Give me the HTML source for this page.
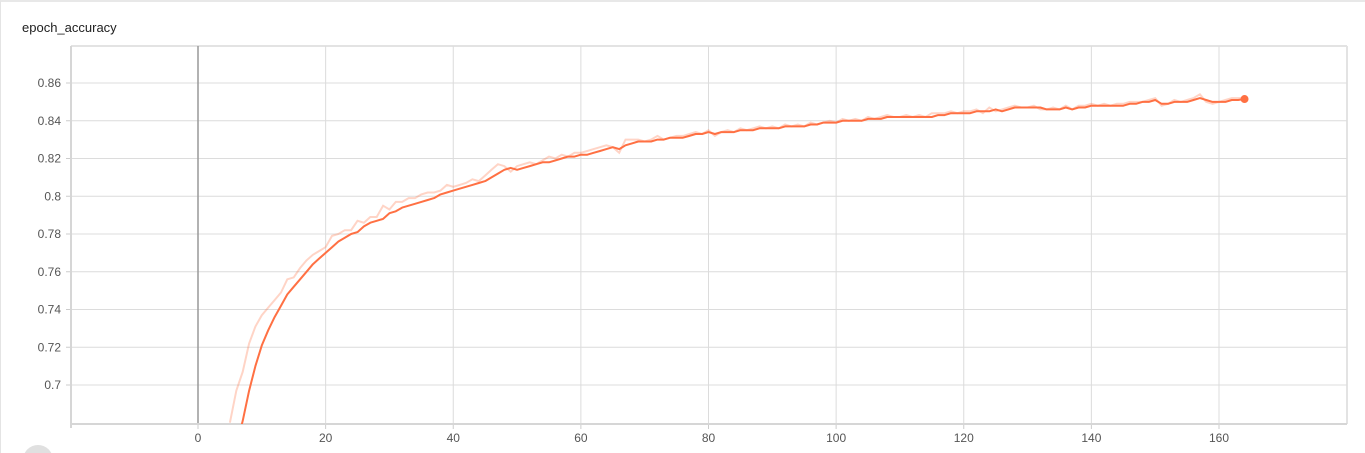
<!DOCTYPE html>
<html><head><meta charset="utf-8"><style>
html,body{margin:0;padding:0;background:#fff;width:1365px;height:453px;overflow:hidden;font-family:"Liberation Sans",sans-serif}
#card{position:absolute;left:0;top:0;width:1365px;height:453px;overflow:hidden;border-top:2px solid #e8e8e8;border-left:1px solid #e4e4e4;box-sizing:border-box}
#title{position:absolute;left:21px;top:18px;font-size:13px;color:#212121}
#fab{position:absolute;left:22px;top:443px;width:30px;height:30px;border-radius:50%;background:#e0e0e0}
</style></head><body>
<div id="card">
<div id="title">epoch_accuracy</div>
<svg id="chart" width="1365" height="453" style="position:absolute;left:-1px;top:-2px"></svg>
<div id="fab"></div>
</div>
<script>
const startEpoch = 5;
const smoothedValues = [0.655,0.668,0.681,0.697,0.71,0.721,0.729,0.736,0.742,0.748,0.752,0.756,0.76,0.764,0.767,0.770,0.773,0.776,0.778,0.780,0.781,0.784,0.786,0.787,0.788,0.791,0.792,0.794,0.795,0.796,0.797,0.798,0.799,0.801,0.802,0.803,0.804,0.805,0.806,0.807,0.808,0.810,0.812,0.814,0.815,0.814,0.815,0.816,0.817,0.818,0.818,0.819,0.820,0.821,0.821,0.822,0.822,0.823,0.824,0.825,0.826,0.825,0.827,0.828,0.829,0.829,0.829,0.830,0.830,0.831,0.831,0.831,0.832,0.833,0.833,0.834,0.833,0.834,0.834,0.834,0.835,0.835,0.835,0.836,0.836,0.836,0.836,0.837,0.837,0.837,0.837,0.838,0.838,0.839,0.839,0.839,0.840,0.840,0.840,0.840,0.841,0.841,0.841,0.842,0.842,0.842,0.842,0.842,0.842,0.842,0.842,0.843,0.843,0.844,0.844,0.844,0.844,0.845,0.845,0.845,0.846,0.845,0.846,0.847,0.847,0.847,0.847,0.847,0.846,0.846,0.846,0.847,0.846,0.847,0.847,0.848,0.848,0.848,0.848,0.848,0.848,0.849,0.849,0.850,0.850,0.851,0.849,0.849,0.850,0.850,0.850,0.851,0.852,0.851,0.850,0.850,0.850,0.851,0.851,0.8515];
const rawValues = [0.68,0.697,0.707,0.722,0.731,0.737,0.741,0.745,0.749,0.756,0.757,0.762,0.766,0.769,0.771,0.773,0.779,0.780,0.782,0.782,0.787,0.786,0.789,0.789,0.795,0.793,0.797,0.797,0.799,0.799,0.801,0.802,0.802,0.803,0.806,0.805,0.806,0.807,0.809,0.808,0.811,0.814,0.817,0.816,0.813,0.816,0.817,0.818,0.817,0.819,0.821,0.820,0.822,0.821,0.823,0.823,0.824,0.825,0.826,0.827,0.826,0.823,0.830,0.830,0.830,0.829,0.830,0.832,0.830,0.831,0.832,0.832,0.833,0.834,0.833,0.835,0.832,0.834,0.835,0.834,0.836,0.835,0.836,0.837,0.836,0.837,0.836,0.838,0.837,0.838,0.837,0.839,0.838,0.839,0.840,0.839,0.841,0.840,0.841,0.840,0.842,0.841,0.842,0.843,0.842,0.842,0.843,0.842,0.843,0.842,0.844,0.844,0.844,0.845,0.844,0.845,0.845,0.846,0.844,0.847,0.845,0.846,0.847,0.848,0.847,0.847,0.848,0.846,0.846,0.847,0.846,0.848,0.846,0.848,0.848,0.849,0.848,0.849,0.848,0.849,0.849,0.850,0.850,0.850,0.851,0.852,0.848,0.849,0.851,0.850,0.851,0.852,0.854,0.850,0.849,0.850,0.851,0.852,0.852,0.852];
const xTicks = [0,20,40,60,80,100,120,140,160];
const yTicks = [0.7,0.72,0.74,0.76,0.78,0.8,0.82,0.84,0.86];

const L=71,R=1347,T=46,B=424;
const xs = e => 198 + e*(1219-198)/160;
const ys = v => 83 + (0.86 - v)*1887.5;
const NS='http://www.w3.org/2000/svg';
const svg=document.getElementById('chart');
function mk(t,a){const e=document.createElementNS(NS,t);for(const k in a)e.setAttribute(k,a[k]);svg.appendChild(e);return e;}

const defs=mk('defs',{});
const cp=document.createElementNS(NS,'clipPath');cp.setAttribute('id','clip');
const cr=document.createElementNS(NS,'rect');cr.setAttribute('x',L);cr.setAttribute('y',T);cr.setAttribute('width',R-L);cr.setAttribute('height',B-T);
cp.appendChild(cr);defs.appendChild(cp);

let g=mk('line',{x1:L,y1:T,x2:R,y2:T,stroke:'#e3e3e3','stroke-width':2});

g=mk('line',{x1:R,y1:T,x2:R,y2:B,stroke:'#e3e3e3','stroke-width':2});


yTicks.forEach(v=>{
  const y=ys(v);
  const l=mk('line',{x1:L,y1:y,x2:R,y2:y,stroke:'#dcdcdc','stroke-width':1});
  
  const tk=mk('line',{x1:L-5,y1:y,x2:L,y2:y,stroke:'#ccc'});
  
  const t=mk('text',{x:L-10,y:y+4,'text-anchor':'end','font-size':12,fill:'#555'});
  t.textContent=String(v);
  
});
xTicks.forEach(e=>{
  const x=xs(e);
  const l=mk('line',{x1:x,y1:T,x2:x,y2:B,stroke:e===0?'#999':'#dcdcdc','stroke-width':e===0?1.5:1});
  
  const tk=mk('line',{x1:x,y1:B,x2:x,y2:B+5,stroke:'#ccc'});
  
  const t=mk('text',{x:x,y:442,'text-anchor':'middle','font-size':12,fill:'#555'});
  t.textContent=String(e);
  
});
g=mk('line',{x1:L,y1:T,x2:L,y2:B+4,stroke:'#d6d6d6','stroke-width':2});

g=mk('line',{x1:L,y1:B,x2:R,y2:B,stroke:'#d6d6d6','stroke-width':2});


function pts(arr){return arr.map((v,i)=>xs(startEpoch+i).toFixed(1)+','+ys(v).toFixed(1)).join(' ');}
const raw=mk('polyline',{points:pts(rawValues),fill:'none',stroke:'#ff7043','stroke-opacity':0.3,'stroke-width':2,'clip-path':'url(#clip)'});

const sm=mk('polyline',{points:pts(smoothedValues),fill:'none',stroke:'#ff7043','stroke-width':2,'clip-path':'url(#clip)','stroke-linejoin':'round'});

const li=smoothedValues.length-1;
const dot=mk('circle',{cx:xs(startEpoch+li),cy:ys(smoothedValues[li]),r:4,fill:'#ff7043'});

</script>
</body></html>
